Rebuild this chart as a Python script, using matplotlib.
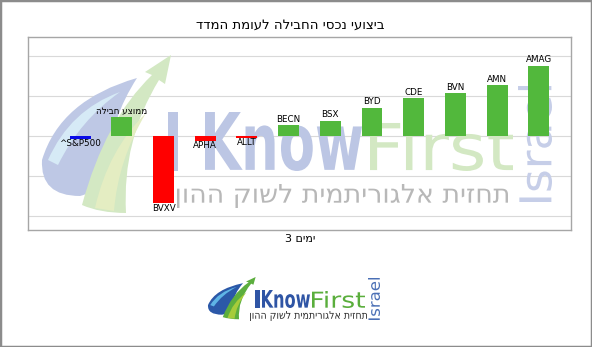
import numpy as np
import matplotlib
matplotlib.use('Agg')
import matplotlib.pyplot as plt
from matplotlib.textpath import TextPath
from matplotlib.font_manager import FontProperties
from matplotlib.patches import PathPatch, Rectangle
from matplotlib.path import Path
from matplotlib.transforms import Affine2D

# data
labels = ['^S&P500', 'ממוצע חבילה', 'BVXV', 'APHA', 'ALLT', 'BECN', 'BSX',
          'BYD', 'CDE', 'BVN', 'AMN', 'AMAG']
values = [-0.15, 0.93, -3.37, -0.23, -0.09, 0.55, 0.77, 1.42, 1.88, 2.15, 2.53, 3.52]
bar_colors = ['#0a0ae8', '#52b83c', '#ff0000', '#ff0000', '#ff0000', '#52b83c',
              '#52b83c', '#52b83c', '#52b83c', '#52b83c', '#52b83c', '#52b83c']
title = 'ביצועי נכסי החבילה לעומת המדד'
xlabel_word = 'ימים'
tagline = 'תחזית אלגוריתמית לשוק ההון'


def vis(s):
    # matplotlib has no bidi, flip hebrew strings by hand
    if any('\u0590' <= ch <= '\u05ff' for ch in s):
        return s[::-1]
    return s


W, H = 592, 347
fig = plt.figure(figsize=(W / 100, H / 100), dpi=100)
# pixel coords, origin top-left
px = Affine2D().scale(1 / W, -1 / H).translate(0, 1) + fig.transFigure


def fit_text(s, box, color, weight='normal', rot=0, alpha=1.0, z=1, where=None):
    x0, y0, x1, y1 = box
    tp = TextPath((0, 0), s, size=50, prop=FontProperties(family='DejaVu Sans', weight=weight))
    if rot:
        tp = Affine2D().rotate_deg(rot).transform_path(tp)
    bb = tp.get_extents()
    t = Affine2D().translate(-bb.x0, -bb.y0).scale((x1 - x0) / bb.width, -(y1 - y0) / bb.height).translate(x0, y1)
    p = PathPatch(t.transform_path(tp), transform=px, fc=color, ec='none', alpha=alpha, zorder=z)
    (where or fig).add_artist(p)


M, C3, L, CL = Path.MOVETO, Path.CURVE3, Path.LINETO, Path.CLOSEPOLY
swoosh_shapes = [
    ([(137, 78), (60, 100), (42, 160), (40, 196), (80, 196), (105, 190), (110, 160), (110, 120), (137, 78), (137, 78)],
     [M, C3, C3, C3, C3, C3, C3, C3, C3, CL]),
    ([(48, 160), (70, 110), (120, 92), (80, 120), (58, 165), (48, 160)],
     [M, C3, C3, C3, C3, CL]),
    ([(82, 205), (105, 120), (152, 75), (145, 72), (171, 55), (165, 84), (159, 80), (122, 140), (126, 213),
      (100, 213), (82, 205), (82, 205)],
     [M, C3, C3, L, L, L, L, C3, C3, C3, C3, CL]),
    ([(95, 208), (108, 150), (146, 113), (118, 160), (114, 211), (95, 208)],
     [M, C3, C3, C3, C3, CL]),
]


def swoosh(colors, sx, sy, ox, oy, where, alpha=1.0, z=1):
    for (verts, codes), c in zip(swoosh_shapes, colors):
        v = [(ox + (a - 42) * sx, oy + (b - 55) * sy) for a, b in verts]
        p = PathPatch(Path(v, codes), transform=px, fc=c, ec='none', alpha=alpha, zorder=z)
        where.add_artist(p)


ax = fig.add_axes([28 / W, 1 - 230 / H, (570.5 - 28) / W, (230 - 37) / H])
x = np.arange(len(values))
ax.bar(x, values, width=0.5, color=bar_colors, zorder=3)
for i, (lab, v) in enumerate(zip(labels, values)):
    if v >= 0:
        ax.annotate(vis(lab), (i, v), xytext=(0, 1), textcoords='offset points',
                    ha='center', va='bottom', fontsize=6.3, zorder=4)
    else:
        ax.annotate(vis(lab), (i, v), xytext=(0, -0.3), textcoords='offset points',
                    ha='center', va='top', fontsize=6.3, zorder=4)

ax.set_xlim(-1.25, 11.76)
ax.set_ylim(-4.7, 4.95)
ax.set_yticks([-4, -2, 0, 2, 4])
ax.set_axisbelow(True)
ax.yaxis.grid(True, color='#d9d9d9', lw=0.8)
ax.tick_params(left=False, bottom=False, labelleft=False, labelbottom=False)
for s in ax.spines.values():
    s.set_color('#a6a6a6')
    s.set_linewidth(1)

# watermark inside the plot
swoosh(['#bec8e5', '#d6eaf6', '#d3e8c3', '#e4edc2'], 1, 1, 42, 55, ax, z=1)
fit_text('I', (168, 112, 178, 171), '#bcc6e4', weight='bold', where=ax)
fit_text('Know', (205, 112, 362, 171), '#bcc6e4', weight='bold', where=ax)
fit_text('First', (370, 121, 513, 171), '#d3e8c3', where=ax)
fit_text(vis(tagline), (177, 184, 508, 208), '#b8b8b8', where=ax)
fit_text('Israel', (518, 86, 552, 202), '#c6cee8', rot=90, where=ax)

fig.text(290 / W, 1 - 25 / H, vis(title), ha='center', va='center', fontsize=9.5)
fig.text(300 / W, 1 - 239 / H, '3 ' + vis(xlabel_word), ha='center', va='center', fontsize=8)

# logo below
swoosh(['#2b58a8', '#5fb4e6', '#5cae3e', '#a6cc3a'], 48 / 130, 42 / 157, 208, 277, fig)
fit_text('I', (255, 290, 260, 308), '#2f55a5', weight='bold')
fit_text('Know', (262, 290, 310, 308), '#2f55a5', weight='bold')
fit_text('First', (312, 291, 365, 308), '#5aae3c')
fit_text(vis(tagline), (250, 311, 367, 321), '#2d2d2d')
fit_text('Israel', (368, 278, 380, 320), '#4a6fb5', rot=90)

fig.add_artist(Rectangle((0, 0), 1, 1, transform=fig.transFigure, fill=False, ec='#8c8c8c', lw=2.5))

fig.savefig('out.png', dpi=100)
